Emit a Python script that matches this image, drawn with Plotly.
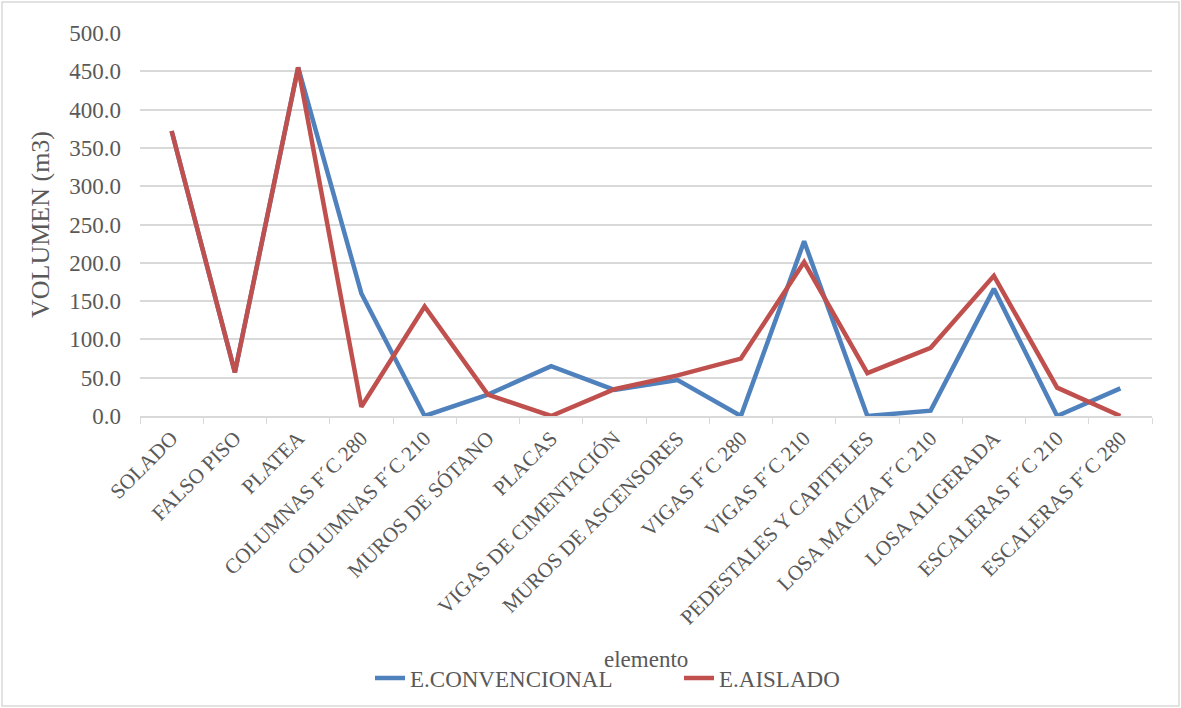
import plotly.graph_objects as go

categories = [
    "SOLADO", "FALSO PISO", "PLATEA", "COLUMNAS F´C 280", "COLUMNAS F´C 210",
    "MUROS DE SÓTANO", "PLACAS", "VIGAS DE CIMENTACIÓN", "MUROS DE ASCENSORES",
    "VIGAS F´C 280", "VIGAS F´C 210", "PEDESTALES Y CAPITELES",
    "LOSA MACIZA F´C 210", "LOSA ALIGERADA", "ESCALERAS F´C 210", "ESCALERAS F´C 280",
]
convencional = [372, 57, 455, 160, 0, 28, 65, 34, 47, 0, 228, 0, 7, 166, 0, 36]
aislado = [372, 57, 455, 12, 143, 28, 0, 35, 53, 75, 201, 56, 89, 183, 37, 0]
y_ticks = [0, 50, 100, 150, 200, 250, 300, 350, 400, 450, 500]

FONT = "Liberation Serif"
TXT = "#595959"

fig = go.Figure()
fig.add_trace(go.Scatter(x=categories, y=convencional, mode="lines", name="E.CONVENCIONAL",
                         line=dict(color="#4f81bd", width=4.5)))
fig.add_trace(go.Scatter(x=categories, y=aislado, mode="lines", name="E.AISLADO",
                         line=dict(color="#c0504d", width=4.5)))

fig.update_layout(
    width=1181, height=708,
    margin=dict(l=140, r=29, t=33, b=292),
    paper_bgcolor="white", plot_bgcolor="white",
    font=dict(family=FONT, color=TXT, size=20),
    showlegend=True,
    legend=dict(orientation="h", xref="container", yref="container", x=370/1181, xanchor="left",
                y=0.012, yanchor="bottom", font=dict(size=23, color=TXT, family=FONT),
                entrywidth=264, entrywidthmode="pixels", bgcolor="rgba(0,0,0,0)"),
    xaxis=dict(
        type="category", tickangle=-45, tickfont=dict(size=21, color=TXT, family=FONT),
        showgrid=False, showline=True, linecolor="#d9d9d9", linewidth=1.5,
        ticks="outside", tickson="boundaries", ticklen=6, tickcolor="#d9d9d9",
        range=[-0.5, len(categories) - 0.5], automargin=False,
    ),
    yaxis=dict(
        range=[0, 500], tickvals=y_ticks, tickformat=".1f",
        tickfont=dict(size=23, color=TXT, family=FONT),
        showgrid=True, gridcolor="#d9d9d9", gridwidth=1.5, zeroline=False,
        showline=False, ticks="", ticklabelstandoff=18, automargin=False,
        title=dict(text="VOLUMEN (m3)", font=dict(size=26, color=TXT, family=FONT), standoff=12),
    ),
    annotations=[dict(text="elemento", xref="paper", yref="paper", x=0.5, y=-0.635,
                      xanchor="center", yanchor="middle", showarrow=False,
                      font=dict(size=23, color=TXT, family=FONT))],
    shapes=[dict(type="rect", xref="paper", yref="paper", x0=-138/1012, x1=1+27/1012,
                 y0=-290/383, y1=1+31/383, line=dict(color="#d9d9d9", width=1.5))],
)

fig.write_html("out.html", config={"displayModeBar": False},
               post_script="document.body.style.margin='0px';")
